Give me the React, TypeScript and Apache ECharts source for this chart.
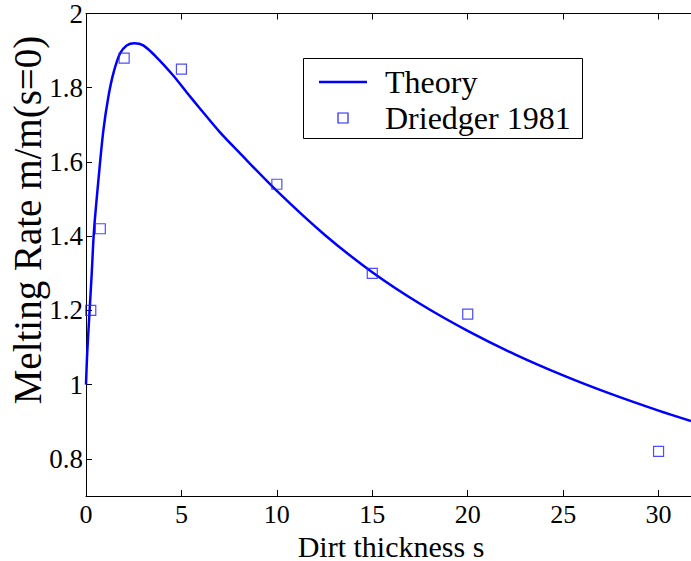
import React, { useEffect, useRef } from "react";
import * as echarts from "echarts";

const sTheory = [0, 0.05, 0.1, 0.2, 0.3, 0.42, 0.65, 0.91, 1.17, 1.43, 1.78, 2.13, 2.53, 3.0, 3.7, 4.57, 5.27, 5.97, 7, 8, 10, 12.5, 15, 17.5, 20, 22.5, 25, 27.5, 30, 31.7];
const mTheory = [1.0, 1.07, 1.12, 1.21, 1.3, 1.416, 1.551, 1.685, 1.775, 1.838, 1.892, 1.914, 1.92, 1.914, 1.882, 1.833, 1.788, 1.744, 1.681, 1.627, 1.522, 1.404, 1.303, 1.218, 1.145, 1.081, 1.025, 0.975, 0.93, 0.902];

const sData = [0.25, 0.75, 2, 5, 10, 15, 20, 30];
const mData = [1.2, 1.42, 1.88, 1.85, 1.54, 1.3, 1.19, 0.82];

const xTicks = [0, 5, 10, 15, 20, 25, 30];
const yTicks = [0.8, 1, 1.2, 1.4, 1.6, 1.8, 2];

const seriesNames = ["Theory", "Driedger 1981"];
const xTitle = "Dirt thickness s";
const yTitle = "Melting Rate m/m(s=0)";

const FONT = "'Liberation Serif', 'Times New Roman', serif";
const BLUE = "#0000ff";
const SQ = "#2020ff";

export default function App() {
  const ref = useRef<HTMLDivElement>(null);
  useEffect(() => {
    if (!ref.current) return;
    const chart = echarts.init(ref.current, undefined, { renderer: "svg" });
    const axisCommon = {
      axisLine: { show: true, lineStyle: { color: "#000", width: 1 } },
      splitLine: { show: false },
    };
    chart.setOption({
      animation: false,
      backgroundColor: "#fff",
      textStyle: { fontFamily: FONT },
      grid: { left: 86, top: 13, right: 0, bottom: 65, containLabel: false },
      xAxis: [
        {
          type: "value",
          min: 0,
          max: 31.7,
          position: "bottom",
          ...axisCommon,
          axisTick: { show: true, inside: true, length: 6, customValues: xTicks, lineStyle: { color: "#000" } },
          axisLabel: {
            customValues: xTicks,
            fontFamily: FONT,
            fontSize: 26,
            lineHeight: 26,
            color: "#000",
            margin: 5,
            formatter: (v: number) => String(v),
          },
        },
        {
          type: "value",
          min: 0,
          max: 31.7,
          position: "top",
          ...axisCommon,
          axisTick: { show: true, inside: true, length: 6, customValues: xTicks, lineStyle: { color: "#000" } },
          axisLabel: { show: false },
        },
      ],
      yAxis: [
        {
          type: "value",
          min: 0.7,
          max: 2,
          ...axisCommon,
          axisTick: { show: true, inside: true, length: 6, customValues: yTicks, lineStyle: { color: "#000" } },
          axisLabel: {
            customValues: yTicks,
            fontFamily: FONT,
            fontSize: 27,
            color: "#000",
            margin: 3,
            formatter: (v: number) => String(Math.round(v * 10) / 10),
          },
        },
      ],
      graphic: [
        {
          type: "text",
          x: 391,
          y: 546,
          style: { text: xTitle, fontFamily: FONT, fontSize: 30, lineHeight: 30, fill: "#000", align: "center", verticalAlign: "middle" },
        },
        {
          type: "text",
          x: 27,
          y: 220,
          rotation: Math.PI / 2,
          style: { text: yTitle, fontFamily: FONT, fontSize: 39, fill: "#000", align: "center", verticalAlign: "middle" },
        },
        {
          type: "rect",
          shape: { x: 303.5, y: 58.5, width: 279, height: 80 },
          style: { fill: "#fff", stroke: "#000", lineWidth: 1 },
          z: 10,
        },
        {
          type: "line",
          shape: { x1: 319, y1: 82, x2: 367, y2: 82 },
          style: { stroke: BLUE, lineWidth: 2.5 },
          z: 11,
        },
        {
          type: "rect",
          shape: { x: 338, y: 113, width: 10, height: 10 },
          style: { fill: "none", stroke: SQ, lineWidth: 1.2 },
          z: 11,
        },
        {
          type: "text",
          x: 385,
          y: 82,
          style: { text: seriesNames[0], fontFamily: FONT, fontSize: 32, fill: "#000", align: "left", verticalAlign: "middle" },
          z: 11,
        },
        {
          type: "text",
          x: 385,
          y: 118,
          style: { text: seriesNames[1], fontFamily: FONT, fontSize: 32, fill: "#000", align: "left", verticalAlign: "middle" },
          z: 11,
        },
      ],
      series: [
        {
          name: seriesNames[0],
          type: "line",
          symbol: "none",
          smooth: 0.3,
          data: sTheory.map((s, i) => [s, mTheory[i]]),
          lineStyle: { color: BLUE, width: 2.5 },
          itemStyle: { color: BLUE },
          z: 2,
        },
        {
          name: seriesNames[1],
          type: "scatter",
          symbol: "rect",
          symbolSize: 10,
          data: sData.map((s, i) => [s, mData[i]]),
          itemStyle: { color: "none", borderColor: SQ, borderWidth: 1.2 },
          z: 3,
        },
      ],
    });
    return () => chart.dispose();
  }, []);
  return <div ref={ref} style={{ position: "fixed", left: 0, top: 0, width: 691, height: 561 }} />;
}
